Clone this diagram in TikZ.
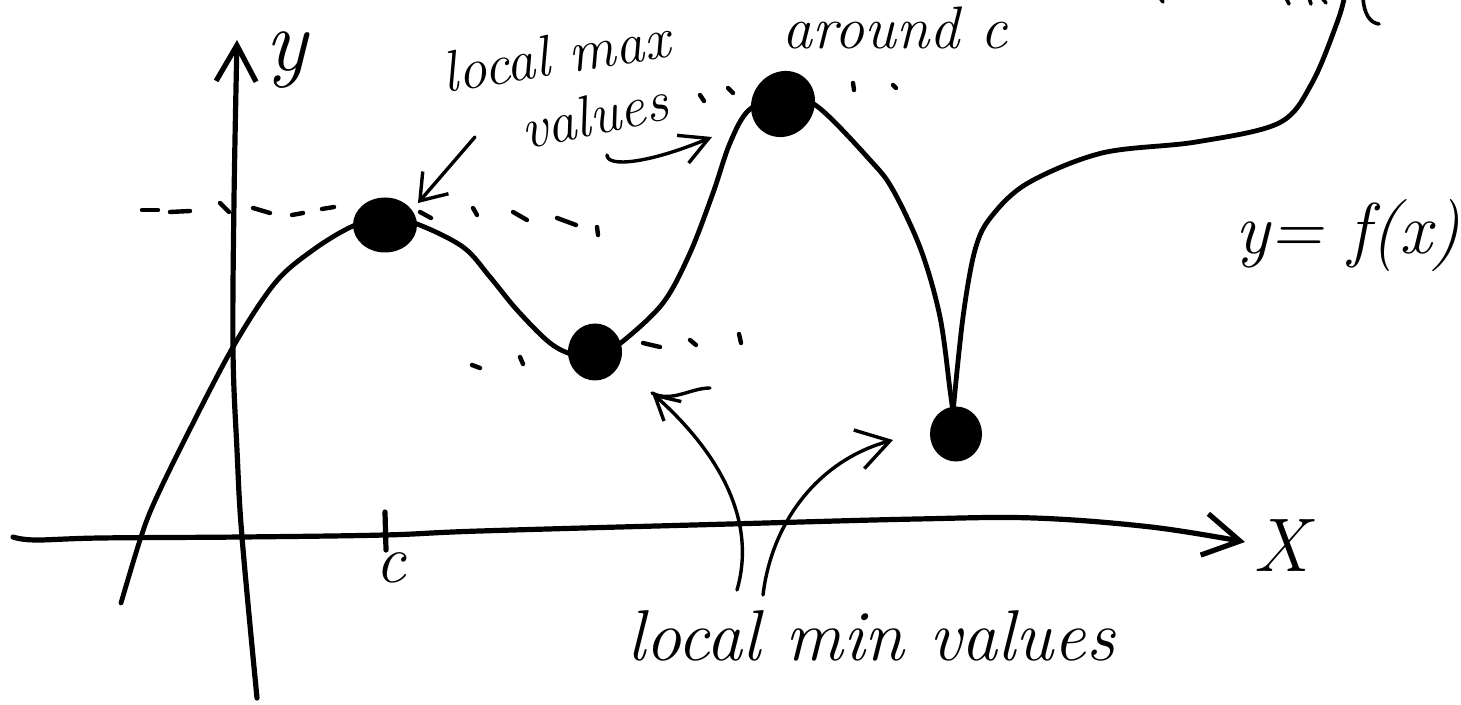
\documentclass[tikz,border=0pt]{standalone}
\usetikzlibrary{arrows.meta,shapes.geometric}
\begin{document}
\begin{tikzpicture}[x=0.5pt,y=-0.5pt,
  curve/.style={line width=2.4pt, line cap=round, line join=round},
  axis/.style={line width=2.6pt, line cap=round, line join=round},
  pointer/.style={line width=1.7pt, line cap=round, line join=round},
  dotnode/.style={ellipse, fill=black, inner sep=0pt},
  dashmark/.style={line width=2.2pt, line cap=round},
  hand/.style={inner sep=0pt, font=\fontsize{29}{32}\selectfont\itshape},
]
\useasboundingbox (0,0) rectangle (1461,705);
\clip (0,0) rectangle (1461,705);

% axes
\draw[axis, -{Straight Barb[length=18pt,width=21pt]}]
  plot[smooth, tension=0.6] coordinates {(13,537) (35,540) (100,538) (242,537) (385,535) (480,531) (730,524) (917,519) (1034,518) (1151,527) (1245,542)};
\draw[axis, -{Straight Barb[length=18pt,width=20pt]}]
  plot[smooth, tension=0.6] coordinates {(257,698) (242,537) (237,450) (233,350) (234,200) (237,40)};
\draw[axis] (385,512) -- (386,550);

% labels on axes
\node[hand, font=\fontsize{44}{48}\selectfont\itshape] (ylab) at (286,60) {y};
\node[hand, font=\fontsize{38}{40}\selectfont\itshape] (xlab) at (1281,546) {X};
\node[hand, font=\fontsize{34}{36}\selectfont\itshape] (clab) at (391,568) {c};

% graph of f
\draw[curve] plot[smooth, tension=0.55] coordinates {(121,603) (140,540) (154,503) (186,437) (233,347) (275,283) (313,250) (353,226) (385,218) (417,224) (463,247) (490,277) (517,310) (550,343) (575,355) (600,354) (622,342) (663,303) (690,253) (713,193) (730,143) (749,110) (783,95) (818,107) (870,160) (893,190) (921,250) (940,317) (950,390) (953,412)};
\draw[curve] plot[smooth, tension=0.55] coordinates {(953,412) (963,317) (975,250) (991,217) (1028,183) (1102,153) (1196,142) (1279,123) (1312,83) (1338,20) (1346,-10)};

% extreme points
\node[dotnode, minimum width=32pt, minimum height=27.5pt] (max1) at (385,225) {};
\node[dotnode, minimum width=27pt, minimum height=28.5pt] (min1) at (595,352) {};
\node[dotnode, minimum width=31pt, minimum height=34pt, rotate=-35] (max2) at (783,104) {};
\node[dotnode, minimum width=26pt, minimum height=27.5pt] (min2) at (956,434) {};

% dashed levels (hand drawn)
\foreach \a/\b/\c/\d in {
  142/210/158/210, 170/212/190/211, 220/203/229/212, 253/208/270/213, 292/215/303/213, 322/209/334/207,
  420/212/431/218, 473/208/477/215, 513/212/527/220, 557/218/576/225, 597/227/598/235,
  700/95/704/101, 728/88/733/93, 853/83/854/90, 893/85/896/88,
  472/365/480/368, 520/357/523/364, 643/343/660/347, 690/340/696/345, 739/334/741/343}
  \draw[dashmark] (\a,\b) -- (\c,\d);

% fragments of cut-off text at top right
\begin{scope}[line width=1.8pt, line cap=round]
\draw (1160,-2) -- (1163,2);
\draw (1286,-2) -- (1289,4);
\draw (1309,-2) -- (1311,4);
\draw (1322,-2) -- (1326,3);
\draw (1363,-2) .. controls (1364,14) and (1370,23) .. (1379,24);
\end{scope}

% texts
\node[hand, rotate=9] (lmax) at (556,55) {local max};
\node[hand, rotate=12] (vals) at (594,115) {values};
\node[hand, font=\fontsize{30}{32}\selectfont\itshape] (around) at (895,28) {around c};
\node[hand, font=\fontsize{36}{40}\selectfont\itshape] (fx) at (1348,236) {y= f(x)};
\node[hand, font=\fontsize{36}{38}\selectfont\itshape, anchor=base] (lmin) at (871,660) {local min values};

% pointers
\coordinate (p1s) at (475,137);
\coordinate (p1e) at (418,203);
\draw[pointer, -{Straight Barb[length=12pt,width=17pt]}] (p1s) -- (p1e);

\coordinate (p2s) at (607,155);
\coordinate (p2e) at (712,137);
\draw[pointer, -{Straight Barb[length=14pt,width=15pt]}] (p2s) .. controls (607,168) and (650,163) .. (p2e);

\coordinate (p3s) at (737,590);
\coordinate (p3e) at (652,393);
\draw[pointer, -{Straight Barb[length=12pt,width=13pt]}] (p3s) .. controls (760,510) and (705,440) .. (p3e);
\draw[pointer] (p3e) .. controls (672,403) and (690,388) .. (710,388);

\coordinate (p4s) at (763,595);
\coordinate (p4e) at (893,440);
\draw[pointer, -{Straight Barb[length=16pt,width=20pt]}] (p4s) .. controls (772,520) and (820,460) .. (p4e);
\end{tikzpicture}
\end{document}
